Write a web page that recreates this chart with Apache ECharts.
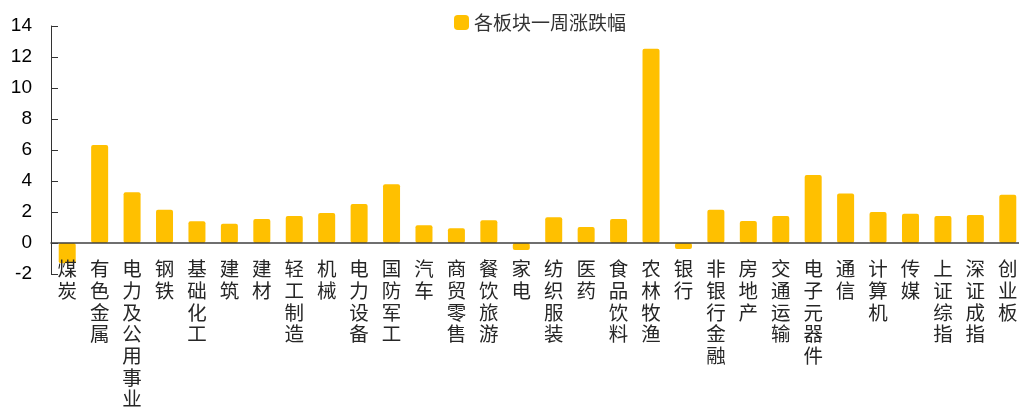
<!DOCTYPE html>
<html>
<head>
<meta charset="utf-8">
<title>各板块一周涨跌幅</title>
<script src="https://cdn.jsdelivr.net/npm/echarts@6/dist/echarts.min.js"></script>
<style>
  html, body { margin: 0; padding: 0; background: #fff; }
  #main { width: 1019px; height: 407px; }
</style>
</head>
<body>
<div id="main"></div>
<script>
'use strict';
// 板块名称
var categories = ['煤炭', '有色金属', '电力及公用事业', '钢铁', '基础化工', '建筑', '建材', '轻工制造', '机械',
	'电力设备', '国防军工', '汽车', '商贸零售', '餐饮旅游', '家电', '纺织服装', '医药', '食品饮料', '农林牧渔',
	'银行', '非银行金融', '房地产', '交通运输', '电子元器件', '通信', '计算机', '传媒', '上证综指', '深证成指', '创业板'];
// 一周涨跌幅 (%)
var weekChange = [-1.30, 6.33, 3.27, 2.15, 1.40, 1.25, 1.55, 1.74, 1.94,
	2.52, 3.79, 1.14, 0.95, 1.47, -0.45, 1.66, 1.03, 1.55, 12.53,
	-0.39, 2.15, 1.42, 1.74, 4.39, 3.19, 2.00, 1.89, 1.74, 1.81, 3.12];
var seriesName = '各板块一周涨跌幅';
var yMin = -2, yMax = 14, yStep = 2;

var chart = echarts.init(document.getElementById('main'));

var option = {
	animation: false,
	legend: {
		left: 449,
		top: 8,
		itemWidth: 15,
		itemHeight: 15,
		itemGap: 4,
		textStyle: {
			fontFamily: 'Noto Sans CJK SC',
			fontSize: 19,
			color: '#333'
		},
		data: [seriesName]
	},
	grid: {
		left: 51,
		right: -5,
		top: 26,
		bottom: 133,
		containLabel: false,
		outerBoundsMode: 'none'
	},
	xAxis: {
		type: 'category',
		data: categories,
		z: 5,
		axisLine: { onZero: true, lineStyle: { color: '#404040', width: 1.5 } },
		axisTick: { inside: true, length: 6, lineStyle: { color: '#333' } },
		axisLabel: {
			interval: 0,
			margin: -16,
			fontFamily: 'Noto Sans CJK SC',
			fontSize: 19.5,
			lineHeight: 21.7,
			color: '#262626',
			verticalAlign: 'top',
			formatter: function (v) {
				return v.split('').join('\n');
			}
		}
	},
	yAxis: {
		type: 'value',
		min: yMin,
		max: yMax,
		interval: yStep,
		splitLine: { show: false },
		axisLine: { show: true, lineStyle: { color: '#333', width: 1 } },
		axisTick: { show: true, inside: true, length: 7, lineStyle: { color: '#333' } },
		axisLabel: {
			margin: 19,
			fontFamily: 'Liberation Sans',
			fontSize: 19,
			color: '#000'
		}
	},
	series: [{
		name: seriesName,
		type: 'bar',
		data: weekChange,
		barWidth: 17,
		itemStyle: {
			color: '#FFC000',
			borderRadius: 2
		}
	}]
};
chart.setOption(option);
</script>
</body>
</html>
